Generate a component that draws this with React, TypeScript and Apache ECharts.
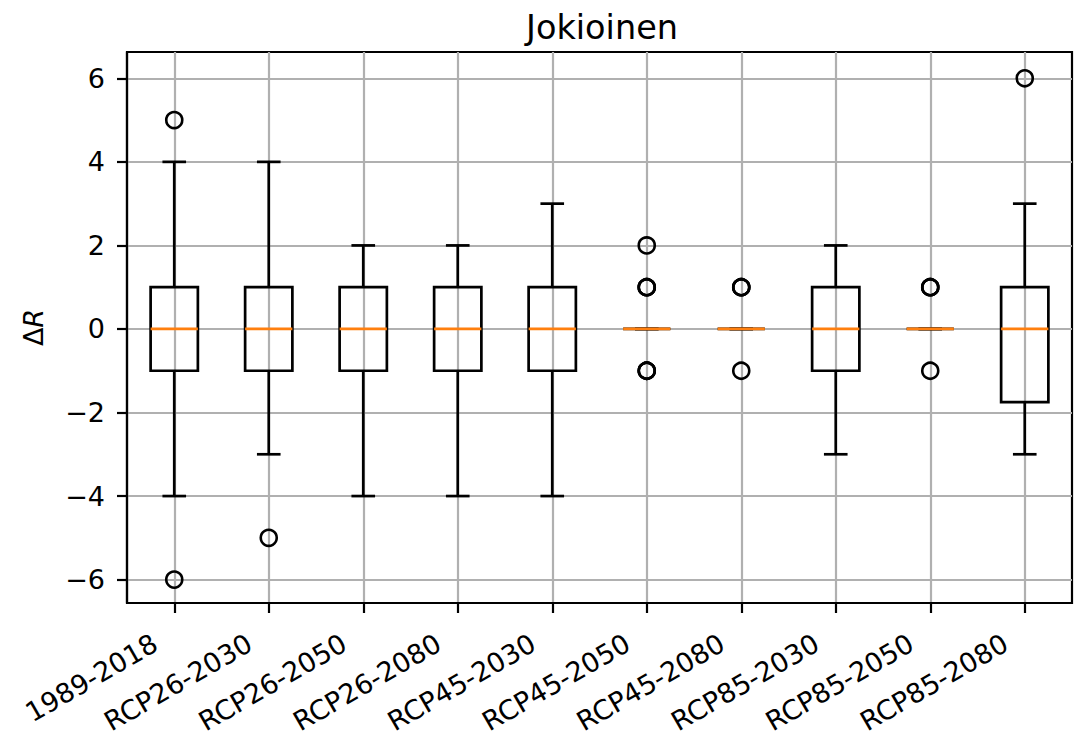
import React, { useEffect, useRef } from "react";
import * as echarts from "echarts";

const categories = [
  "1989-2018",
  "RCP26-2030",
  "RCP26-2050",
  "RCP26-2080",
  "RCP45-2030",
  "RCP45-2050",
  "RCP45-2080",
  "RCP85-2030",
  "RCP85-2050",
  "RCP85-2080",
];
const whiskerLow = [-4, -3, -4, -4, -4, 0, 0, -3, 0, -3];
const q1 = [-1, -1, -1, -1, -1, 0, 0, -1, 0, -1.75];
const medians = [0, 0, 0, 0, 0, 0, 0, 0, 0, 0];
const q3 = [1, 1, 1, 1, 1, 0, 0, 1, 0, 1];
const whiskerHigh = [4, 4, 2, 2, 3, 0, 0, 2, 0, 3];
// [category index (0-based), value]; repeated values are overlapping fliers
const outliers: [number, number][] = [
  [0, 5], [0, -6],
  [1, -5],
  [5, 2], [5, 1], [5, 1], [5, 1], [5, -1], [5, -1], [5, -1],
  [6, 1], [6, 1], [6, 1], [6, -1],
  [8, 1], [8, 1], [8, 1], [8, -1],
  [9, 6],
];
const yTicks = [-6, -4, -2, 0, 2, 4, 6];
const xTicks = categories.map((_, i) => i + 1);

const FONT = "DejaVu Sans";
const LW = 2.7;
const FS = 27;

export default function App() {
  const ref = useRef<HTMLDivElement>(null);
  useEffect(() => {
    if (!ref.current) return;
    const chart = echarts.init(ref.current, null, { renderer: "svg" });
    const boxData = categories.map((_, i) => [
      i + 1,
      whiskerLow[i],
      q1[i],
      medians[i],
      q3[i],
      whiskerHigh[i],
    ]);
    const option: any = {
      animation: false,
      backgroundColor: "#fff",
      title: {
        text: "Jokioinen",
        left: 597,
        textAlign: "center",
        top: 5,
        textStyle: { fontFamily: FONT, fontSize: 33.5, fontWeight: "normal", color: "#000" },
      },
      grid: {
        left: 127,
        right: 17,
        top: 52,
        bottom: 134,
        outerBoundsMode: "none",
        containLabel: false,
        show: true,
        borderColor: "#000",
        borderWidth: 2.2,
        backgroundColor: "transparent",
      },
      xAxis: {
        type: "value",
        min: 0.5,
        max: 10.5,
        axisLine: { show: true, onZero: false, lineStyle: { color: "#000", width: 2.2 } },
        axisTick: {
          show: true,
          customValues: xTicks,
          length: 10,
          lineStyle: { color: "#000", width: 2.2 },
        },
        axisLabel: {
          customValues: xTicks,
          rotate: 30,
          margin: 27,
          padding: [0, 22, 0, 0],
          fontFamily: FONT,
          fontSize: FS,
          color: "#000",
          formatter: (v: number) => categories[Math.round(v) - 1] ?? "",
        },
        splitLine: { show: true, lineStyle: { color: "#b0b0b0", width: 2.2 } },
      },
      yAxis: {
        type: "value",
        min: -6.56,
        max: 6.63,
        name: "{d|Δ}{r|R}",
        nameLocation: "middle",
        nameGap: 80,
        nameTextStyle: {
          fontFamily: FONT,
          fontSize: FS,
          color: "#000",
          rich: {
            d: { fontFamily: FONT, fontSize: FS, color: "#000" },
            r: { fontFamily: FONT, fontSize: FS, fontStyle: "italic", color: "#000" },
          },
        },
        axisLine: { show: true, onZero: false, lineStyle: { color: "#000", width: 2.2 } },
        axisTick: {
          show: true,
          customValues: yTicks,
          length: 10,
          lineStyle: { color: "#000", width: 2.2 },
        },
        axisLabel: {
          customValues: yTicks,
          margin: 22,
          fontFamily: FONT,
          fontSize: FS,
          color: "#000",
          formatter: (v: number) => String(v).replace("-", "\u2212"),
        },
        splitLine: { show: true, lineStyle: { color: "#b0b0b0", width: 2.2 } },
      },
      series: [
        {
          type: "custom",
          data: boxData,
          z: 3,
          renderItem: (params: any, api: any) => {
            const x = api.value(0);
            const lo = api.value(1);
            const a = api.value(2);
            const m = api.value(3);
            const b = api.value(4);
            const hi = api.value(5);
            const half = api.size([0.5, 0])[0] / 2;
            const capHalf = half / 2;
            const pLo = api.coord([x, lo]);
            const pA = api.coord([x, a]);
            const pM = api.coord([x, m]);
            const pB = api.coord([x, b]);
            const pHi = api.coord([x, hi]);
            const cx = pM[0];
            const stroke = { stroke: "#000", lineWidth: LW, fill: "none" };
            return {
              type: "group",
              children: [
                { type: "line", shape: { x1: cx, y1: pA[1], x2: cx, y2: pLo[1] }, style: stroke },
                { type: "line", shape: { x1: cx, y1: pB[1], x2: cx, y2: pHi[1] }, style: stroke },
                { type: "line", shape: { x1: cx - capHalf, y1: pLo[1], x2: cx + capHalf, y2: pLo[1] }, style: stroke },
                { type: "line", shape: { x1: cx - capHalf, y1: pHi[1], x2: cx + capHalf, y2: pHi[1] }, style: stroke },
                {
                  type: "polygon",
                  shape: {
                    points: [
                      [cx - half, pA[1]],
                      [cx + half, pA[1]],
                      [cx + half, pB[1]],
                      [cx - half, pB[1]],
                    ],
                  },
                  style: stroke,
                },
                {
                  type: "line",
                  shape: { x1: cx - half, y1: pM[1], x2: cx + half, y2: pM[1] },
                  style: { stroke: "#ff7f0e", lineWidth: LW },
                },
              ],
            };
          },
        },
        {
          type: "scatter",
          z: 4,
          data: outliers.map(([i, v]) => [i + 1, v]),
          symbol: "circle",
          symbolSize: 16,
          itemStyle: { color: "rgba(0,0,0,0)", borderColor: "#000", borderWidth: 2.6, opacity: 1 },
        },
      ],
    };
    chart.setOption(option);
    return () => chart.dispose();
  }, []);
  return <div ref={ref} style={{ width: 1089, height: 737, position: "absolute", left: 0, top: 0 }} />;
}
